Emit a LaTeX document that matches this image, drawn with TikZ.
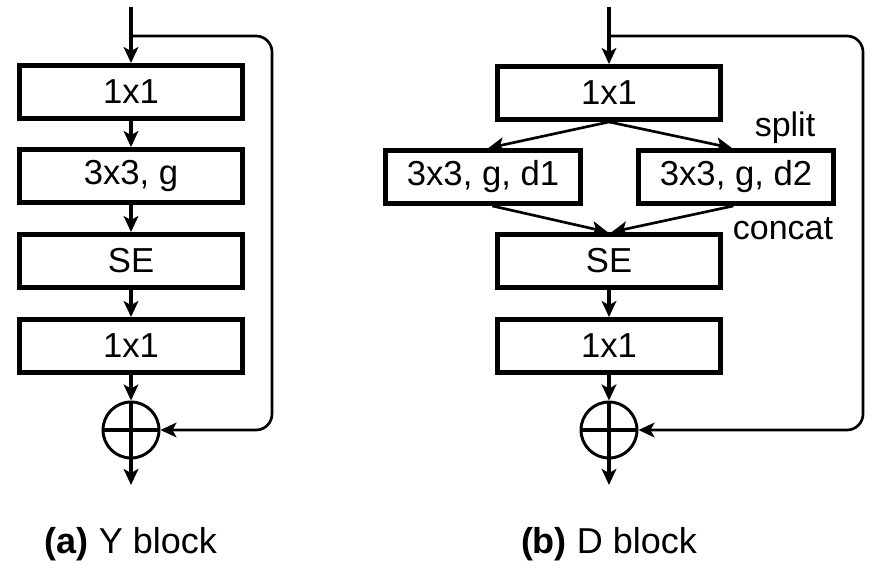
\documentclass[tikz,border=0pt]{standalone}
\usepackage{fontspec}
\setmainfont{Liberation Sans}
\usetikzlibrary{arrows.meta}

\tikzset{
  blk/.style={draw, line width=3.4pt, minimum width=167pt, minimum height=40pt, inner sep=0pt, font=\fontsize{26}{30}\selectfont},
  splitblk/.style={blk, minimum width=146pt},
  arr/.style={line width=3pt, -{Stealth[length=12pt,width=11pt,inset=3pt]}},
  thinarr/.style={line width=2pt, -{Stealth[length=12pt,width=11pt,inset=3pt]}},
  sumop/.style={draw, circle, line width=2.2pt, minimum size=42pt, inner sep=0pt},
  lbl/.style={font=\fontsize{25.5}{29}\selectfont, inner sep=0pt},
  captxt/.style={font=\fontsize{27}{31}\selectfont, inner sep=0pt}
}

\begin{document}
\begin{tikzpicture}[x=0.75pt,y=-0.75pt]
  \useasboundingbox (0,0) rectangle (873,579);

  % (a) Y block
  \coordinate (ina) at (131,7);
  \coordinate (tapa) at (131,36);
  \coordinate (ska) at (272,36);
  \coordinate (outa) at (131,485);
  \node[blk] (a1) at (131,92) {1x1};
  \node[blk] (a2) at (131,176) {3x3, g};
  \node[blk] (a3) at (131,261) {SE};
  \node[blk] (a4) at (131,346) {1x1};
  \node[sumop] (suma) at (131,430) {};
  \draw[line width=3pt] (suma.north) -- (suma.south) (suma.west) -- (suma.east);
  \draw[arr] (ina) -- (a1);
  \draw[arr] (a1) -- (a2);
  \draw[arr] (a2) -- (a3);
  \draw[arr] (a3) -- (a4);
  \draw[arr] (a4) -- (suma);
  \draw[arr] (suma) -- (outa);
  \draw[thinarr, rounded corners=12pt] (tapa) -- (ska) |- (suma.east);
  \node[captxt] (capa) at (131,544) {\textbf{(a)} Y block};

  % (b) D block
  \coordinate (inb) at (609,7);
  \coordinate (tapb) at (609,36);
  \coordinate (skb) at (863,36);
  \coordinate (outb) at (609,485);
  \node[blk] (b1) at (609,93) {1x1};
  \node[splitblk] (b2l) at (483,177) {3x3, g, d1};
  \node[splitblk] (b2r) at (736,177) {3x3, g, d2};
  \node[blk] (b3) at (609,261) {SE};
  \node[blk] (b4) at (609,346) {1x1};
  \node[sumop] (sumb) at (609,430) {};
  \draw[line width=3pt] (sumb.north) -- (sumb.south) (sumb.west) -- (sumb.east);
  \draw[arr] (inb) -- (b1);
  \draw[thinarr] (b1.south) -- ([xshift=4pt]b2l.north);
  \draw[thinarr] (b1.south) -- ([xshift=-3pt]b2r.north);
  \draw[thinarr] ([xshift=7pt]b2l.south) -- ([xshift=-1pt]b3.north);
  \draw[thinarr] ([xshift=-2pt]b2r.south) -- ([xshift=2pt]b3.north);
  \draw[arr] (b3) -- (b4);
  \draw[arr] (b4) -- (sumb);
  \draw[arr] (sumb) -- (outb);
  \draw[thinarr, rounded corners=12pt] (tapb) -- (skb) |- (sumb.east);
  \node[lbl] (splitlbl) at (785,128) {split};
  \node[lbl] (concatlbl) at (783,229) {concat};
  \node[captxt] (capb) at (609,544) {\textbf{(b)} D block};
\end{tikzpicture}
\end{document}
